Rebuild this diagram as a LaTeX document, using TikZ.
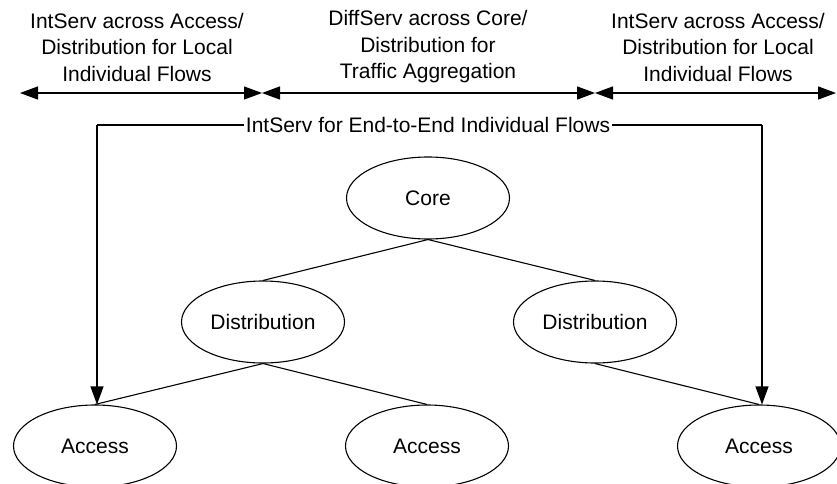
\documentclass[tikz,border=0pt]{standalone}
\usepackage{fontspec}
\setmainfont{Liberation Sans}
\usetikzlibrary{shapes.geometric,arrows.meta}
\begin{document}
\begin{tikzpicture}[x=1pt,y=-1pt,
  oval/.style={ellipse,draw,line width=1.1pt,minimum width=163pt,minimum height=82pt,inner sep=0pt,font=\fontsize{21}{26.5}\selectfont},
  lbl/.style={align=center,inner sep=0pt,font=\fontsize{21}{26.5}\selectfont},
  conn/.style={line width=1.1pt},
  span/.style={line width=1.3pt,{Triangle[length=18pt,width=13pt]}-{Triangle[length=18pt,width=13pt]}},
  down/.style={line width=1.1pt,-{Triangle[length=18pt,width=13pt]}}]
\useasboundingbox[fill=white] (0,0) rectangle (837,484);

% header labels
\node[lbl] (h1) at (137,47) {IntServ across Access/\\Distribution for Local\\Individual Flows};
\node[lbl] (h2) at (428,47) {DiffServ across Core/\\Distribution for\\Traffic Aggregation};
\node[lbl] (h3) at (718,47) {IntServ across Access/\\Distribution for Local\\Individual Flows};

% span arrows
\coordinate (s0) at (20,93);
\coordinate (s1) at (262,93);
\coordinate (s2) at (595,93);
\coordinate (s3) at (836,93);
\draw[span] (s0) -- (s1);
\draw[span] (s1) -- (s2);
\draw[span] (s2) -- (s3);

% tree
\node[oval] (core) at (428,198) {Core};
\node[oval] (distL) at (263,322) {Distribution};
\node[oval] (distR) at (595,322) {Distribution};
\node[oval] (accL) at (95,446) {Access};
\node[oval] (accM) at (427,446) {Access};
\node[oval] (accR) at (759,446) {Access};

\draw[conn] (core.south) -- (distL.north);
\draw[conn] (core.south) -- (distR.north);
\draw[conn] (distL.south) -- (accL.north);
\draw[conn] (distL.south) -- (accM.north);
\draw[conn] (distR.south) -- (accR.north);

% end-to-end IntServ
\node[lbl,fill=white,inner sep=2pt] (e2e) at (428,125) {IntServ for End-to-End Individual Flows};
\coordinate (tl) at (97,125);
\coordinate (tr) at (762,125);
\draw[conn] (tl) -- (e2e.west);
\draw[conn] (e2e.east) -- (tr);
\draw[down] (tl) -- (tl |- accL.north);
\draw[down] (tr) -- (tr |- accR.north);
\end{tikzpicture}
\end{document}
